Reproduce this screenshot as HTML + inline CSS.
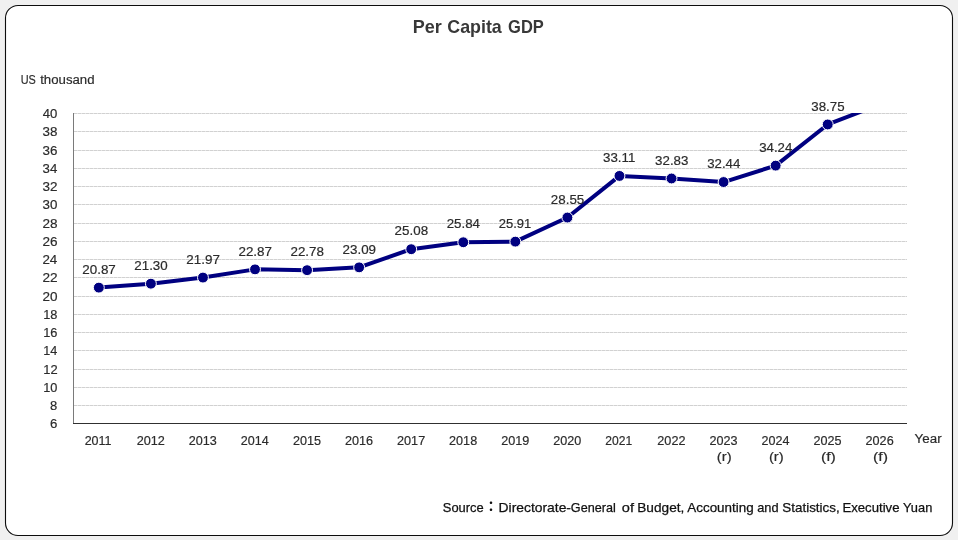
<!DOCTYPE html>
<html lang="en"><head><meta charset="utf-8"><title>Per Capita GDP</title>
<style>html,body{margin:0;padding:0;background:#f0f0f0;}body{width:958px;height:540px;overflow:hidden;position:relative;}svg{position:absolute;left:0;top:0;display:block;}text{font-family:"Liberation Sans","Noto Sans CJK TC",sans-serif;fill:#2b2b2b;stroke:#2b2b2b;stroke-width:0.18px;}</style></head><body>
<svg width="958" height="540" viewBox="0 0 958 540">
<rect x="0" y="0" width="958" height="540" fill="#f0f0f0"/>
<rect x="5.5" y="5.5" width="947" height="530" rx="12.5" ry="12.5" fill="#ffffff" stroke="#0d0d0d" stroke-width="1.1"/>
<g style="fill:#333333">
<text x="412.79" y="32.60" font-size="18.5" font-weight="bold" textLength="29.08" lengthAdjust="spacingAndGlyphs" style="fill:#383838;stroke:none">Per</text>
<text x="447.27" y="32.60" font-size="18.5" font-weight="bold" textLength="54.52" lengthAdjust="spacingAndGlyphs" style="fill:#383838;stroke:none">Capita</text>
<text x="508.12" y="32.60" font-size="18.5" font-weight="bold" textLength="35.74" lengthAdjust="spacingAndGlyphs" style="fill:#383838;stroke:none">GDP</text>
</g>
<text x="20.76" y="83.70" font-size="12.5" textLength="15.14" lengthAdjust="spacingAndGlyphs">US</text>
<text x="40.20" y="83.70" font-size="12.5" textLength="54.35" lengthAdjust="spacingAndGlyphs">thousand</text>
<line x1="74.0" y1="113.5" x2="907.0" y2="113.5" stroke="#e2e2e2" stroke-width="0.9"/>
<line x1="74.0" y1="113.5" x2="907.0" y2="113.5" stroke="#cecece" stroke-width="0.9" stroke-dasharray="3 1"/>
<line x1="74.0" y1="131.5" x2="907.0" y2="131.5" stroke="#e2e2e2" stroke-width="0.9"/>
<line x1="74.0" y1="131.5" x2="907.0" y2="131.5" stroke="#cecece" stroke-width="0.9" stroke-dasharray="3 1"/>
<line x1="74.0" y1="150.5" x2="907.0" y2="150.5" stroke="#e2e2e2" stroke-width="0.9"/>
<line x1="74.0" y1="150.5" x2="907.0" y2="150.5" stroke="#cecece" stroke-width="0.9" stroke-dasharray="3 1"/>
<line x1="74.0" y1="168.5" x2="907.0" y2="168.5" stroke="#e2e2e2" stroke-width="0.9"/>
<line x1="74.0" y1="168.5" x2="907.0" y2="168.5" stroke="#cecece" stroke-width="0.9" stroke-dasharray="3 1"/>
<line x1="74.0" y1="186.5" x2="907.0" y2="186.5" stroke="#e2e2e2" stroke-width="0.9"/>
<line x1="74.0" y1="186.5" x2="907.0" y2="186.5" stroke="#cecece" stroke-width="0.9" stroke-dasharray="3 1"/>
<line x1="74.0" y1="204.5" x2="907.0" y2="204.5" stroke="#e2e2e2" stroke-width="0.9"/>
<line x1="74.0" y1="204.5" x2="907.0" y2="204.5" stroke="#cecece" stroke-width="0.9" stroke-dasharray="3 1"/>
<line x1="74.0" y1="223.5" x2="907.0" y2="223.5" stroke="#e2e2e2" stroke-width="0.9"/>
<line x1="74.0" y1="223.5" x2="907.0" y2="223.5" stroke="#cecece" stroke-width="0.9" stroke-dasharray="3 1"/>
<line x1="74.0" y1="241.5" x2="907.0" y2="241.5" stroke="#e2e2e2" stroke-width="0.9"/>
<line x1="74.0" y1="241.5" x2="907.0" y2="241.5" stroke="#cecece" stroke-width="0.9" stroke-dasharray="3 1"/>
<line x1="74.0" y1="259.5" x2="907.0" y2="259.5" stroke="#e2e2e2" stroke-width="0.9"/>
<line x1="74.0" y1="259.5" x2="907.0" y2="259.5" stroke="#cecece" stroke-width="0.9" stroke-dasharray="3 1"/>
<line x1="74.0" y1="277.5" x2="907.0" y2="277.5" stroke="#e2e2e2" stroke-width="0.9"/>
<line x1="74.0" y1="277.5" x2="907.0" y2="277.5" stroke="#cecece" stroke-width="0.9" stroke-dasharray="3 1"/>
<line x1="74.0" y1="296.5" x2="907.0" y2="296.5" stroke="#e2e2e2" stroke-width="0.9"/>
<line x1="74.0" y1="296.5" x2="907.0" y2="296.5" stroke="#cecece" stroke-width="0.9" stroke-dasharray="3 1"/>
<line x1="74.0" y1="314.5" x2="907.0" y2="314.5" stroke="#e2e2e2" stroke-width="0.9"/>
<line x1="74.0" y1="314.5" x2="907.0" y2="314.5" stroke="#cecece" stroke-width="0.9" stroke-dasharray="3 1"/>
<line x1="74.0" y1="332.5" x2="907.0" y2="332.5" stroke="#e2e2e2" stroke-width="0.9"/>
<line x1="74.0" y1="332.5" x2="907.0" y2="332.5" stroke="#cecece" stroke-width="0.9" stroke-dasharray="3 1"/>
<line x1="74.0" y1="350.5" x2="907.0" y2="350.5" stroke="#e2e2e2" stroke-width="0.9"/>
<line x1="74.0" y1="350.5" x2="907.0" y2="350.5" stroke="#cecece" stroke-width="0.9" stroke-dasharray="3 1"/>
<line x1="74.0" y1="369.5" x2="907.0" y2="369.5" stroke="#e2e2e2" stroke-width="0.9"/>
<line x1="74.0" y1="369.5" x2="907.0" y2="369.5" stroke="#cecece" stroke-width="0.9" stroke-dasharray="3 1"/>
<line x1="74.0" y1="387.5" x2="907.0" y2="387.5" stroke="#e2e2e2" stroke-width="0.9"/>
<line x1="74.0" y1="387.5" x2="907.0" y2="387.5" stroke="#cecece" stroke-width="0.9" stroke-dasharray="3 1"/>
<line x1="74.0" y1="405.5" x2="907.0" y2="405.5" stroke="#e2e2e2" stroke-width="0.9"/>
<line x1="74.0" y1="405.5" x2="907.0" y2="405.5" stroke="#cecece" stroke-width="0.9" stroke-dasharray="3 1"/>
<line x1="73.5" y1="113.0" x2="73.5" y2="424.0" stroke="#7a7a7a" stroke-width="1"/>
<line x1="73.0" y1="423.5" x2="907.0" y2="423.5" stroke="#303030" stroke-width="1"/>
<text x="42.80" y="118.10" font-size="12.1" textLength="14.61" lengthAdjust="spacingAndGlyphs">40</text>
<text x="42.59" y="136.10" font-size="12.1" textLength="14.89" lengthAdjust="spacingAndGlyphs">38</text>
<text x="42.59" y="155.10" font-size="12.1" textLength="14.90" lengthAdjust="spacingAndGlyphs">36</text>
<text x="42.60" y="173.10" font-size="12.1" textLength="14.69" lengthAdjust="spacingAndGlyphs">34</text>
<text x="42.59" y="191.10" font-size="12.1" textLength="14.99" lengthAdjust="spacingAndGlyphs">32</text>
<text x="42.59" y="209.10" font-size="12.1" textLength="14.83" lengthAdjust="spacingAndGlyphs">30</text>
<text x="42.42" y="228.10" font-size="12.1" textLength="15.07" lengthAdjust="spacingAndGlyphs">28</text>
<text x="42.42" y="246.10" font-size="12.1" textLength="15.08" lengthAdjust="spacingAndGlyphs">26</text>
<text x="42.43" y="264.10" font-size="12.1" textLength="14.86" lengthAdjust="spacingAndGlyphs">24</text>
<text x="42.41" y="282.10" font-size="12.1" textLength="15.17" lengthAdjust="spacingAndGlyphs">22</text>
<text x="42.42" y="301.10" font-size="12.1" textLength="15.01" lengthAdjust="spacingAndGlyphs">20</text>
<text x="43.23" y="319.10" font-size="12.1" textLength="14.23" lengthAdjust="spacingAndGlyphs">18</text>
<text x="43.23" y="337.10" font-size="12.1" textLength="14.24" lengthAdjust="spacingAndGlyphs">16</text>
<text x="43.24" y="355.10" font-size="12.1" textLength="14.03" lengthAdjust="spacingAndGlyphs">14</text>
<text x="43.22" y="374.10" font-size="12.1" textLength="14.33" lengthAdjust="spacingAndGlyphs">12</text>
<text x="43.23" y="392.10" font-size="12.1" textLength="14.17" lengthAdjust="spacingAndGlyphs">10</text>
<text x="50.14" y="410.10" font-size="12.1" textLength="7.23" lengthAdjust="spacingAndGlyphs">8</text>
<text x="50.03" y="428.10" font-size="12.1" textLength="7.35" lengthAdjust="spacingAndGlyphs">6</text>
<text x="84.67" y="445.00" font-size="12.1" textLength="26.90" lengthAdjust="spacingAndGlyphs">2011</text>
<text x="136.71" y="445.00" font-size="12.1" textLength="28.17" lengthAdjust="spacingAndGlyphs">2012</text>
<text x="188.77" y="445.00" font-size="12.1" textLength="28.09" lengthAdjust="spacingAndGlyphs">2013</text>
<text x="240.84" y="445.00" font-size="12.1" textLength="27.90" lengthAdjust="spacingAndGlyphs">2014</text>
<text x="292.90" y="445.00" font-size="12.1" textLength="28.06" lengthAdjust="spacingAndGlyphs">2015</text>
<text x="344.96" y="445.00" font-size="12.1" textLength="28.09" lengthAdjust="spacingAndGlyphs">2016</text>
<text x="397.02" y="445.00" font-size="12.1" textLength="28.17" lengthAdjust="spacingAndGlyphs">2017</text>
<text x="449.08" y="445.00" font-size="12.1" textLength="28.08" lengthAdjust="spacingAndGlyphs">2018</text>
<text x="501.15" y="445.00" font-size="12.1" textLength="28.14" lengthAdjust="spacingAndGlyphs">2019</text>
<text x="553.21" y="445.00" font-size="12.1" textLength="28.03" lengthAdjust="spacingAndGlyphs">2020</text>
<text x="605.30" y="445.00" font-size="12.1" textLength="26.90" lengthAdjust="spacingAndGlyphs">2021</text>
<text x="657.33" y="445.00" font-size="12.1" textLength="28.17" lengthAdjust="spacingAndGlyphs">2022</text>
<text x="709.40" y="445.00" font-size="12.1" textLength="28.09" lengthAdjust="spacingAndGlyphs">2023</text>
<text x="716.86" y="460.80" font-size="12.5" textLength="14.84" lengthAdjust="spacingAndGlyphs">(r)</text>
<text x="761.46" y="445.00" font-size="12.1" textLength="27.90" lengthAdjust="spacingAndGlyphs">2024</text>
<text x="768.92" y="460.80" font-size="12.5" textLength="14.84" lengthAdjust="spacingAndGlyphs">(r)</text>
<text x="813.52" y="445.00" font-size="12.1" textLength="28.06" lengthAdjust="spacingAndGlyphs">2025</text>
<text x="820.92" y="460.80" font-size="12.5" textLength="14.97" lengthAdjust="spacingAndGlyphs">(f)</text>
<text x="865.58" y="445.00" font-size="12.1" textLength="28.09" lengthAdjust="spacingAndGlyphs">2026</text>
<text x="872.99" y="460.80" font-size="12.5" textLength="14.97" lengthAdjust="spacingAndGlyphs">(f)</text>
<text x="914.62" y="442.80" font-size="12.5" textLength="26.99" lengthAdjust="spacingAndGlyphs">Year</text>
<clipPath id="pc"><rect x="73.0" y="113.0" width="833.0" height="311.0"/></clipPath>
<polyline clip-path="url(#pc)" fill="none" stroke="#000080" stroke-width="4.0" stroke-linejoin="round" points="98.83,287.61 150.89,283.69 202.96,277.57 255.02,269.36 307.08,270.18 359.14,267.35 411.21,249.20 463.27,242.26 515.33,241.62 567.39,217.53 619.46,175.92 671.52,178.48 723.58,182.04 775.64,165.61 827.71,124.46 879.77,104.38"/>
<circle cx="98.83" cy="287.61" r="5.45" fill="#000080" stroke="#ffffff" stroke-width="1"/>
<circle cx="150.89" cy="283.69" r="5.45" fill="#000080" stroke="#ffffff" stroke-width="1"/>
<circle cx="202.96" cy="277.57" r="5.45" fill="#000080" stroke="#ffffff" stroke-width="1"/>
<circle cx="255.02" cy="269.36" r="5.45" fill="#000080" stroke="#ffffff" stroke-width="1"/>
<circle cx="307.08" cy="270.18" r="5.45" fill="#000080" stroke="#ffffff" stroke-width="1"/>
<circle cx="359.14" cy="267.35" r="5.45" fill="#000080" stroke="#ffffff" stroke-width="1"/>
<circle cx="411.21" cy="249.20" r="5.45" fill="#000080" stroke="#ffffff" stroke-width="1"/>
<circle cx="463.27" cy="242.26" r="5.45" fill="#000080" stroke="#ffffff" stroke-width="1"/>
<circle cx="515.33" cy="241.62" r="5.45" fill="#000080" stroke="#ffffff" stroke-width="1"/>
<circle cx="567.39" cy="217.53" r="5.45" fill="#000080" stroke="#ffffff" stroke-width="1"/>
<circle cx="619.46" cy="175.92" r="5.45" fill="#000080" stroke="#ffffff" stroke-width="1"/>
<circle cx="671.52" cy="178.48" r="5.45" fill="#000080" stroke="#ffffff" stroke-width="1"/>
<circle cx="723.58" cy="182.04" r="5.45" fill="#000080" stroke="#ffffff" stroke-width="1"/>
<circle cx="775.64" cy="165.61" r="5.45" fill="#000080" stroke="#ffffff" stroke-width="1"/>
<circle cx="827.71" cy="124.46" r="5.45" fill="#000080" stroke="#ffffff" stroke-width="1"/>
<text x="82.26" y="273.81" font-size="12.1" textLength="33.55" lengthAdjust="spacingAndGlyphs">20.87</text>
<text x="134.32" y="269.89" font-size="12.1" textLength="33.39" lengthAdjust="spacingAndGlyphs">21.30</text>
<text x="186.38" y="263.77" font-size="12.1" textLength="33.55" lengthAdjust="spacingAndGlyphs">21.97</text>
<text x="238.44" y="255.56" font-size="12.1" textLength="33.55" lengthAdjust="spacingAndGlyphs">22.87</text>
<text x="290.51" y="256.38" font-size="12.1" textLength="33.45" lengthAdjust="spacingAndGlyphs">22.78</text>
<text x="342.57" y="253.55" font-size="12.1" textLength="33.51" lengthAdjust="spacingAndGlyphs">23.09</text>
<text x="394.63" y="235.40" font-size="12.1" textLength="33.45" lengthAdjust="spacingAndGlyphs">25.08</text>
<text x="446.70" y="228.46" font-size="12.1" textLength="33.26" lengthAdjust="spacingAndGlyphs">25.84</text>
<text x="498.78" y="227.82" font-size="12.1" textLength="32.49" lengthAdjust="spacingAndGlyphs">25.91</text>
<text x="550.82" y="203.73" font-size="12.1" textLength="33.43" lengthAdjust="spacingAndGlyphs">28.55</text>
<text x="603.06" y="162.12" font-size="12.1" textLength="32.32" lengthAdjust="spacingAndGlyphs">33.11</text>
<text x="655.11" y="164.68" font-size="12.1" textLength="33.29" lengthAdjust="spacingAndGlyphs">32.83</text>
<text x="707.18" y="168.24" font-size="12.1" textLength="33.09" lengthAdjust="spacingAndGlyphs">32.44</text>
<text x="759.24" y="151.81" font-size="12.1" textLength="33.09" lengthAdjust="spacingAndGlyphs">34.24</text>
<text x="811.30" y="110.66" font-size="12.1" textLength="33.26" lengthAdjust="spacingAndGlyphs">38.75</text>
<text y="511.7" font-size="12.9" style="fill:#111111;stroke:#111111;stroke-width:0.25px">
<tspan x="442.81" y="511.7" textLength="40.96" lengthAdjust="spacingAndGlyphs">Source</tspan>
<tspan x="484.15" y="511.1" font-size="13.5" font-weight="bold" style="stroke:none">：</tspan>
<tspan x="498.56" y="511.7" textLength="72.45" lengthAdjust="spacingAndGlyphs">Directorate-</tspan>
<tspan x="570.87" y="511.7" textLength="44.88" lengthAdjust="spacingAndGlyphs">General</tspan>
<tspan x="621.79" y="511.7" textLength="12.19" lengthAdjust="spacingAndGlyphs">of</tspan>
<tspan x="637.28" y="511.7" textLength="47.05" lengthAdjust="spacingAndGlyphs">Budget,</tspan>
<tspan x="687.27" y="511.7" textLength="66.39" lengthAdjust="spacingAndGlyphs">Accounting</tspan>
<tspan x="757.26" y="511.7" textLength="21.37" lengthAdjust="spacingAndGlyphs">and</tspan>
<tspan x="782.39" y="511.7" textLength="57.31" lengthAdjust="spacingAndGlyphs">Statistics,</tspan>
<tspan x="842.42" y="511.7" textLength="57.06" lengthAdjust="spacingAndGlyphs">Executive</tspan>
<tspan x="903.02" y="511.7" textLength="29.29" lengthAdjust="spacingAndGlyphs">Yuan</tspan>
</text>
</svg></body></html>
